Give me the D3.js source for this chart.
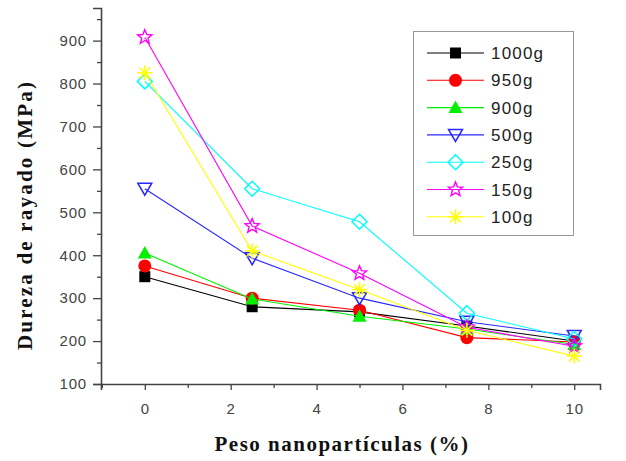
<!DOCTYPE html>
<html><head><meta charset="utf-8">
<script src="https://cdn.jsdelivr.net/npm/d3@7"></script>
<style>body{margin:0;background:#fff}svg{display:block}</style>
</head><body>
<svg id="c" width="626" height="461"></svg>
<script>
const xValues = [0, 2.5, 5, 7.5, 10];
const seriesNames = ["1000g", "950g", "900g", "500g", "250g", "150g", "100g"];
const s1000 = [350, 280, 268, 235, 200];
const s950 = [375, 300, 272, 208, 198];
const s900 = [405, 298, 258, 228, 192];
const s500 = [555, 393, 300, 245, 212];
const s250 = [805, 555, 478, 265, 205];
const s150 = [908, 468, 358, 232, 188];
const s100 = [825, 410, 320, 225, 165];
const yTicks = [100, 200, 300, 400, 500, 600, 700, 800, 900];
const xTicks = [0, 2, 4, 6, 8, 10];
const xLabel = "Peso nanopartículas (%)";
const yLabel = "Dureza de rayado (MPa)";

const seriesValues = [s1000, s950, s900, s500, s250, s150, s100];
const colors = ["#000000", "#ff0000", "#00f000", "#2828ff", "#00ffff", "#ff00ff", "#ffff00"];
const symbols = ["square", "circle", "triangle", "tridown", "diamond", "star", "asterisk"];

const svg = d3.select("#c");
const x = d3.scaleLinear().domain([-1.02, 10.6]).range([101, 600]);
const y = d3.scaleLinear().domain([100, 976]).range([384, 8]);

// axes
const axisColor = "#444";
const yAxis = d3.axisLeft(y).tickValues(yTicks).tickSize(8).tickPadding(6).tickFormat(d3.format("d"));
svg.append("g").attr("transform", "translate(101,0)").call(yAxis);
const yMinor = d3.axisLeft(y).tickValues(d3.range(150, 976, 100)).tickSize(4).tickFormat("");
svg.append("g").attr("transform", "translate(101,0)").call(yMinor).select(".domain").remove();

const xAxis = d3.axisBottom(x).tickValues(xTicks).tickSize(6).tickPadding(13).tickFormat(d3.format("d"));
svg.append("g").attr("transform", "translate(0,384)").call(xAxis);
const xMinor = d3.axisBottom(x).tickValues([-1, 1, 3, 5, 7, 9]).tickSize(4).tickFormat("");
svg.append("g").attr("transform", "translate(0,384)").call(xMinor).select(".domain").remove();

svg.selectAll(".domain").attr("stroke", axisColor).attr("stroke-width", 1.6);
svg.selectAll(".tick line").attr("stroke", axisColor).attr("stroke-width", 1.3);
svg.selectAll(".tick text").attr("fill", "#444").attr("font-family", "Liberation Sans, Arial, sans-serif")
  .attr("font-size", 15).attr("letter-spacing", 0.8);

// titles
svg.append("text").attr("x", 342).attr("y", 451).attr("text-anchor", "middle")
  .attr("font-family", "Liberation Serif, Times New Roman, serif").attr("font-weight", "bold").attr("font-size", 21)
  .attr("letter-spacing", 1.5).attr("fill", "#111").text(xLabel);
svg.append("text").attr("transform", "translate(32,215) rotate(-90)").attr("text-anchor", "middle")
  .attr("font-family", "Liberation Serif, Times New Roman, serif").attr("font-weight", "bold").attr("font-size", 21)
  .attr("letter-spacing", 2.2).attr("fill", "#111").text(yLabel);

// marker drawer
function drawMarker(g, sym, color, cx, cy) {
  if (sym === "square") {
    g.append("rect").attr("x", cx - 5.5).attr("y", cy - 5.5).attr("width", 11).attr("height", 11).attr("fill", color);
  } else if (sym === "circle") {
    g.append("circle").attr("cx", cx).attr("cy", cy).attr("r", 6.5).attr("fill", color);
  } else if (sym === "triangle") {
    g.append("path").attr("d", `M${cx},${cy-7}L${cx+7},${cy+5.5}L${cx-7},${cy+5.5}Z`).attr("fill", color);
  } else if (sym === "tridown") {
    g.append("path").attr("d", `M${cx-7},${cy-5.5}L${cx+7},${cy-5.5}L${cx},${cy+6.5}Z`)
      .attr("fill", "none").attr("stroke", color).attr("stroke-width", 1.5);
  } else if (sym === "diamond") {
    g.append("path").attr("d", `M${cx},${cy-7.5}L${cx+7.5},${cy}L${cx},${cy+7.5}L${cx-7.5},${cy}Z`)
      .attr("fill", "none").attr("stroke", color).attr("stroke-width", 1.5);
  } else if (sym === "star") {
    const pts = [];
    for (let i = 0; i < 10; i++) {
      const r = i % 2 === 0 ? 7.5 : 3.3;
      const a = -Math.PI / 2 + i * Math.PI / 5;
      pts.push([cx + r * Math.cos(a), cy + r * Math.sin(a)]);
    }
    g.append("path").attr("d", "M" + pts.map(p => p.join(",")).join("L") + "Z")
      .attr("fill", "none").attr("stroke", color).attr("stroke-width", 1.4);
  } else if (sym === "asterisk") {
    for (let i = 0; i < 4; i++) {
      const a = i * Math.PI / 4;
      g.append("line").attr("x1", cx - 7.5 * Math.cos(a)).attr("y1", cy - 7.5 * Math.sin(a))
        .attr("x2", cx + 7.5 * Math.cos(a)).attr("y2", cy + 7.5 * Math.sin(a))
        .attr("stroke", color).attr("stroke-width", 1.5);
    }
  }
}

// series
const line = d3.line().x((d, i) => x(xValues[i])).y(d => y(d));
seriesValues.forEach((vals, k) => {
  const g = svg.append("g");
  g.append("path").attr("d", line(vals)).attr("fill", "none").attr("stroke", colors[k]).attr("stroke-width", 1.1);
  vals.forEach((v, i) => drawMarker(g, symbols[k], colors[k], x(xValues[i]), y(v)));
});

// legend
const lg = svg.append("g");
lg.append("rect").attr("x", 413.5).attr("y", 31.5).attr("width", 160).attr("height", 204)
  .attr("fill", "#fff").attr("stroke", "#999").attr("stroke-width", 1);
seriesNames.forEach((name, k) => {
  const cy = 53 + k * 27.3;
  lg.append("line").attr("x1", 427).attr("x2", 484).attr("y1", cy).attr("y2", cy)
    .attr("stroke", colors[k]).attr("stroke-width", 1.1);
  drawMarker(lg, symbols[k], colors[k], 455.5, cy);
  lg.append("text").attr("x", 491).attr("y", cy + 6).attr("font-family", "Liberation Sans, Arial, sans-serif")
    .attr("font-size", 17).attr("letter-spacing", 1.2).attr("fill", "#222").text(name);
});
</script>
</body></html>
